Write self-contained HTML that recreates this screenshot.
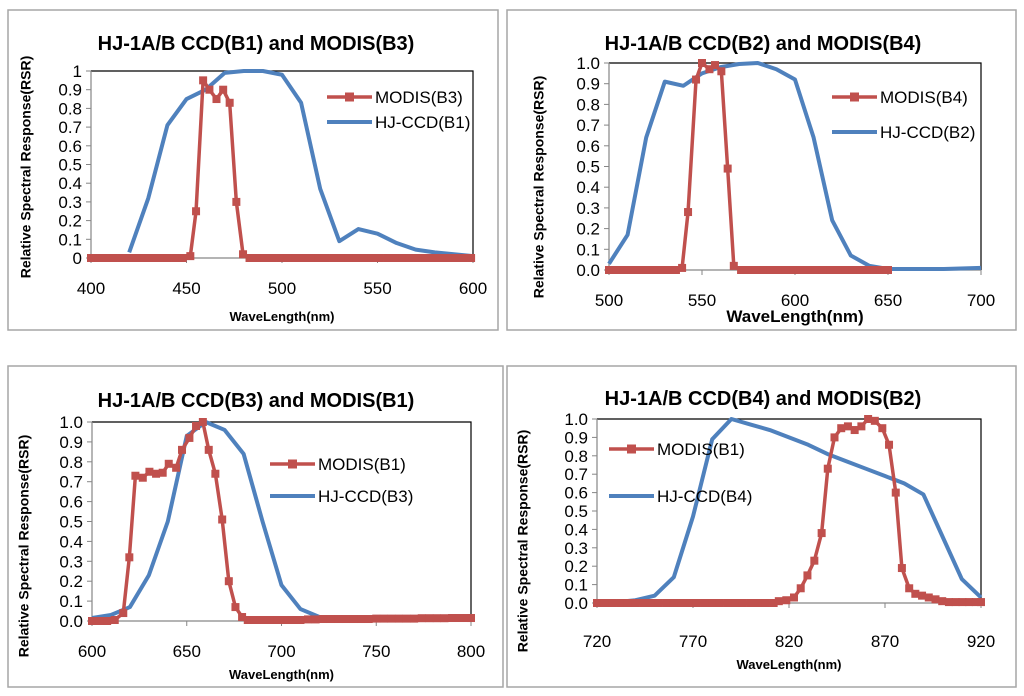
<!DOCTYPE html>
<html><head><meta charset="utf-8">
<style>
body{margin:0;background:#fff;width:1024px;height:696px;overflow:hidden;font-family:"Liberation Sans",sans-serif}
svg{position:absolute;left:0;top:0}
</style></head>
<body>
<svg id="chart" width="1024" height="696" viewBox="0 0 1024 696" xmlns="http://www.w3.org/2000/svg"></svg>
<script>
// ---- Panel 1 data ----
const p1ModisX=[400,404,408,412,416,420,424,428,432,436,440,444,448,452,455,458.7,462,465.7,469.2,472.6,476.1,479.6,483,487,491,495,499,503,507,511,515,519,523,527,531,535,539,543,547,551,555,559,563,567,571,575,579,583,587,591,595,599];
const p1ModisY=[0,0,0,0,0,0,0,0,0,0,0,0,0,0.01,0.25,0.95,0.9,0.85,0.9,0.83,0.3,0.02,0,0,0,0,0,0,0,0,0,0,0,0,0,0,0,0,0,0,0,0,0,0,0,0,0,0,0,0,0,0];
const p1HjX=[420,430,440,450,460,470,480,490,500,510,520,530,540,550,560,570,580,590,600];
const p1HjY=[0.03,0.32,0.71,0.85,0.9,0.99,1.0,1.0,0.98,0.83,0.37,0.09,0.155,0.13,0.08,0.045,0.03,0.02,0.01];
const p1XTicks=[400,450,500,550,600];
const p1YTicks=["0","0.1","0.2","0.3","0.4","0.5","0.6","0.7","0.8","0.9","1"];
// ---- Panel 2 data ----
const p2ModisX=[500,504,508,512,516,520,524,528,532,536,539.3,542.5,546.8,550,554,557,560.4,563.8,567.1,571,575,579,583,587,591,595,599,603,607,611,615,619,623,627,631,635,639,643,647,650];
const p2ModisY=[0,0,0,0,0,0,0,0,0,0,0.01,0.28,0.92,1.0,0.97,0.99,0.96,0.49,0.02,0,0,0,0,0,0,0,0,0,0,0,0,0,0,0,0,0,0,0,0,0];
const p2HjX=[500,510,520,530,540,550,560,570,580,590,600,610,620,630,640,650,660,680,700];
const p2HjY=[0.03,0.17,0.64,0.91,0.89,0.95,0.98,0.995,1.0,0.97,0.92,0.64,0.24,0.07,0.02,0.005,0.005,0.005,0.01];
const p2XTicks=[500,550,600,650,700];
const p2YTicks=["0.0","0.1","0.2","0.3","0.4","0.5","0.6","0.7","0.8","0.9","1.0"];
// ---- Panel 3 data ----
const p3ModisX=[600,604,608,612,616.5,619.7,622.9,626.8,630.3,633.8,637.3,640.5,644.4,647.5,651.4,654.9,658.5,661.6,665.1,668.7,672.2,675.7,679.2,682.2,686,690,694,698,702,706,710,714,718,722,726,730,734,738,742,746,750,754,758,762,766,770,774,778,782,786,790,794,798,800];
const p3ModisY=[0,0,0,0.005,0.04,0.32,0.73,0.72,0.75,0.74,0.745,0.79,0.77,0.86,0.92,0.98,1.0,0.86,0.74,0.51,0.2,0.07,0.02,0.005,0.005,0.005,0.005,0.005,0.005,0.005,0.005,0.008,0.008,0.01,0.01,0.01,0.01,0.01,0.01,0.01,0.012,0.012,0.012,0.012,0.012,0.012,0.014,0.014,0.014,0.014,0.015,0.015,0.015,0.015];
const p3HjX=[600,610,620,630,640,650,660,670,680,690,700,710,720,730,740,800];
const p3HjY=[0.015,0.03,0.07,0.23,0.5,0.93,1.0,0.96,0.84,0.5,0.18,0.06,0.02,0.01,0.005,0.005];
const p3XTicks=[600,650,700,750,800];
const p3YTicks=["0.0","0.1","0.2","0.3","0.4","0.5","0.6","0.7","0.8","0.9","1.0"];
// ---- Panel 4 data ----
const p4ModisX=[720,724,728,732,736,740,744,748,752,756,760,764,768,772,776,780,784,788,792,796,800,804,808,812,814.7,818.6,822.6,826.1,829.6,833.2,837,840.2,843.7,847.2,850.7,854.2,857.7,861.2,864.7,868.6,872.1,875.6,878.8,882.6,885.8,889.3,892.8,896.3,899.8,903.3,906.8,910.3,913.8,917.3,920];
const p4ModisY=[0,0,0,0,0,0,0,0,0,0,0,0,0,0,0,0,0,0,0,0,0,0,0,0,0.01,0.015,0.03,0.08,0.15,0.23,0.38,0.73,0.9,0.95,0.96,0.94,0.96,1.0,0.99,0.95,0.86,0.6,0.19,0.08,0.05,0.04,0.03,0.02,0.01,0.005,0.005,0.005,0.005,0.005,0.005];
const p4HjX=[720,730,740,750,760,770,780,790,800,810,820,830,840,850,860,870,880,890,900,910,920];
const p4HjY=[0.005,0.005,0.015,0.04,0.14,0.47,0.89,1.0,0.97,0.94,0.9,0.86,0.81,0.77,0.73,0.69,0.65,0.59,0.36,0.13,0.03];
const p4XTicks=[720,770,820,870,920];
const p4YTicks=["0.0","0.1","0.2","0.3","0.4","0.5","0.6","0.7","0.8","0.9","1.0"];

const NS="http://www.w3.org/2000/svg";
const svg=document.getElementById('chart');
function mk(tag,attrs,parent){const e=document.createElementNS(NS,tag);for(const k in attrs)e.setAttribute(k,attrs[k]);(parent||svg).appendChild(e);return e;}

const panels=[
 {id:'p1',box:[8,10,490,320],px0:91,px1:473,py0:258,py1:71,xmin:400,xmax:600,title:'HJ-1A/B CCD(B1) and MODIS(B3)',tx:256,ty:50,mx:p1ModisX,my:p1ModisY,hx:p1HjX,hy:p1HjY,xt:p1XTicks,yt:p1YTicks,mname:'MODIS(B3)',hname:'HJ-CCD(B1)',lx:327,ly1:97,ly2:122,xly:294,xtitleY:321,xtitleSize:13,ytitleX:27,ytitleY:167},
 {id:'p2',box:[507,10,509,320],px0:609,px1:981,py0:270,py1:63,xmin:500,xmax:700,title:'HJ-1A/B CCD(B2) and MODIS(B4)',tx:763,ty:50,mx:p2ModisX,my:p2ModisY,hx:p2HjX,hy:p2HjY,xt:p2XTicks,yt:p2YTicks,mname:'MODIS(B4)',hname:'HJ-CCD(B2)',lx:832,ly1:97,ly2:132,xly:306,xtitleY:322,xtitleSize:17,ytitleX:540,ytitleY:187},
 {id:'p3',box:[8,366,495,321],px0:92,px1:471,py0:621,py1:422,xmin:600,xmax:800,title:'HJ-1A/B CCD(B3) and MODIS(B1)',tx:256,ty:407,mx:p3ModisX,my:p3ModisY,hx:p3HjX,hy:p3HjY,xt:p3XTicks,yt:p3YTicks,mname:'MODIS(B1)',hname:'HJ-CCD(B3)',lx:270,ly1:464,ly2:496,xly:657,xtitleY:679,xtitleSize:13,ytitleX:25,ytitleY:546},
 {id:'p4',box:[507,366,509,321],px0:597,px1:981,py0:603,py1:419,xmin:720,xmax:920,title:'HJ-1A/B CCD(B4) and MODIS(B2)',tx:763,ty:405,mx:p4ModisX,my:p4ModisY,hx:p4HjX,hy:p4HjY,xt:p4XTicks,yt:p4YTicks,mname:'MODIS(B1)',hname:'HJ-CCD(B4)',lx:609,ly1:449,ly2:496,xly:647,xtitleY:669,xtitleSize:13,ytitleX:524,ytitleY:541}
];

panels.forEach(p=>{
 const g=mk('g',{});
 
 
 const xs=v=>p.px0+(v-p.xmin)/(p.xmax-p.xmin)*(p.px1-p.px0);
 const ys=v=>p.py0+v*(p.py1-p.py0);
 const fr=mk('rect',{x:p.box[0],y:p.box[1],width:p.box[2],height:p.box[3],fill:'#fff',stroke:'#a6a6a6','stroke-width':1.5},g);
 
 
 const t=mk('text',{x:p.tx,y:p.ty,'text-anchor':'middle','font-size':20,'font-weight':'bold',fill:'#000'},g);
 t.textContent=p.title;
 
 
 mk('polyline',{points:`${p.px0},${p.py1} ${p.px1},${p.py1} ${p.px1},${p.py0}`,fill:'none',stroke:'#000','stroke-width':1.2},g);
 const ax=mk('g',{},g);
 
 
 mk('line',{x1:p.px0,y1:p.py1,x2:p.px0,y2:p.py0,stroke:'#868686','stroke-width':1.2},ax);
 mk('line',{x1:p.px0,y1:p.py0,x2:p.px1,y2:p.py0,stroke:'#868686','stroke-width':1.2},ax);
 p.yt.forEach((lab,i)=>{
  const y=ys(i/(p.yt.length-1));
  mk('line',{x1:p.px0-5,y1:y,x2:p.px0,y2:y,stroke:'#868686','stroke-width':1},ax);
  const tt=mk('text',{x:p.px0-9,y:y+6,'text-anchor':'end','font-size':17,fill:'#000'},ax);
  tt.textContent=lab;
  
  
 });
 p.xt.forEach(v=>{
  const x=xs(v);
  mk('line',{x1:x,y1:p.py0,x2:x,y2:p.py0+5,stroke:'#868686','stroke-width':1},ax);
  const tt=mk('text',{x:x,y:p.xly,'text-anchor':'middle','font-size':17,fill:'#000'},ax);
  tt.textContent=v;
  
  
 });
 const xt=mk('text',{x:(p.px0+p.px1)/2,y:p.xtitleY,'text-anchor':'middle','font-size':p.xtitleSize,'font-weight':'bold',fill:'#000'},g);
 xt.textContent='WaveLength(nm)';
 
 
 const cy=p.ytitleY;
 const yt=mk('text',{x:p.ytitleX,y:cy,'text-anchor':'middle','font-size':14,'font-weight':'bold',fill:'#000',transform:`rotate(-90 ${p.ytitleX} ${cy})`,'dominant-baseline':'middle'},g);
 yt.textContent='Relative Spectral Response(RSR)';
 
 
 const hl=mk('polyline',{points:p.hx.map((x,i)=>xs(x)+','+ys(p.hy[i])).join(' '),fill:'none',stroke:'#4f81bd','stroke-width':4,'stroke-linejoin':'round'},g);
 
 
 const ml=mk('polyline',{points:p.mx.map((x,i)=>xs(x)+','+ys(p.my[i])).join(' '),fill:'none',stroke:'#c0504d','stroke-width':3.5,'stroke-linejoin':'round'},g);
 
 
 const mg=mk('g',{fill:'#c0504d'},g);
 
 
 p.mx.forEach((x,i)=>{
  const r=mk('rect',{x:xs(x)-4,y:ys(p.my[i])-4,width:8,height:8},mg);
  
  
 });
 const lg=mk('g',{},g);
 
 
 mk('line',{x1:p.lx,y1:p.ly1,x2:p.lx+45,y2:p.ly1,stroke:'#c0504d','stroke-width':3.5},lg);
 mk('rect',{x:p.lx+18,y:p.ly1-4.5,width:9,height:9,fill:'#c0504d'},lg);
 const l1=mk('text',{x:p.lx+48,y:p.ly1+6,'font-size':17,fill:'#000'},lg);
 l1.textContent=p.mname;
 
 
 mk('line',{x1:p.lx,y1:p.ly2,x2:p.lx+45,y2:p.ly2,stroke:'#4f81bd','stroke-width':4},lg);
 const l2=mk('text',{x:p.lx+48,y:p.ly2+6,'font-size':17,fill:'#000'},lg);
 l2.textContent=p.hname;
 
 
});
</script>
</body></html>
